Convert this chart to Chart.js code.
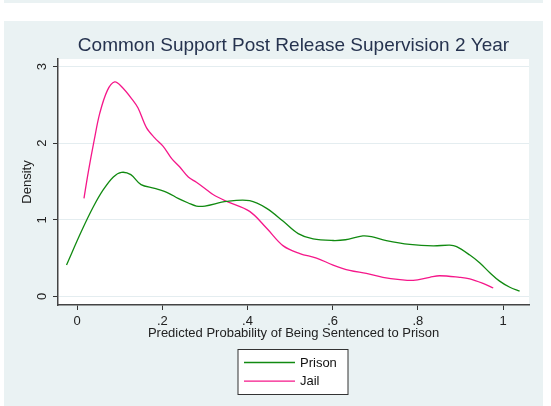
<!DOCTYPE html>
<html><head><meta charset="utf-8">
<script src="https://cdn.jsdelivr.net/npm/chart.js@4.4.1/dist/chart.umd.min.js"></script>
<style>html,body{margin:0;padding:0;background:#fff;}#wrap{width:551px;height:406px;}</style>
</head><body><div id="wrap"><canvas id="c" width="551" height="406"></canvas></div>
<script>
const prisonX = [-0.025,0.010,0.038,0.061,0.085,0.104,0.126,0.150,0.182,0.214,0.237,0.261,0.280,0.300,0.351,0.405,0.445,0.484,0.519,0.554,0.601,0.630,0.671,0.691,0.726,0.781,0.836,0.875,0.891,0.922,0.945,0.969,0.992,1.016,1.039];
const prisonY = [0.41,0.85,1.17,1.39,1.56,1.62,1.59,1.46,1.41,1.35,1.28,1.22,1.18,1.18,1.24,1.25,1.15,0.98,0.82,0.75,0.73,0.74,0.79,0.78,0.73,0.68,0.66,0.67,0.65,0.54,0.44,0.31,0.20,0.12,0.07];
const jailX = [0.016,0.026,0.040,0.053,0.071,0.088,0.104,0.131,0.143,0.163,0.182,0.202,0.222,0.241,0.261,0.280,0.300,0.319,0.351,0.405,0.445,0.484,0.523,0.562,0.601,0.640,0.679,0.718,0.758,0.789,0.828,0.851,0.898,0.922,0.953,0.977];
const jailY = [1.28,1.62,2.04,2.39,2.69,2.80,2.74,2.56,2.46,2.20,2.07,1.96,1.80,1.69,1.56,1.49,1.41,1.33,1.24,1.11,0.89,0.66,0.56,0.50,0.41,0.34,0.30,0.25,0.22,0.21,0.25,0.27,0.25,0.23,0.17,0.11];
const xTickValues = [0,0.2,0.4,0.6,0.8,1];
const xTickLabels = ['0','.2','.4','.6','.8','1'];
const yTickValues = [0,1,2,3];
const yTickLabels = ['0','1','2','3'];
const seriesNames = ['Prison','Jail'];
const titleText = 'Common Support Post Release Supervision 2 Year';
const xTitle = 'Predicted Probability of Being Sentenced to Prison';
const yTitle = 'Density';

const FONT = "'Liberation Sans', Arial, Helvetica, sans-serif";
const PANEL = '#eaf2f3';
const toPts = (xs, ys) => xs.map((x, i) => ({x: x, y: ys[i]}));

const bgPlugin = {
  id: 'bg',
  beforeDraw(chart) {
    const {ctx, chartArea: a} = chart;
    ctx.save();
    ctx.fillStyle = '#ffffff';
    ctx.fillRect(0, 0, chart.width, chart.height);
    ctx.fillStyle = PANEL;
    ctx.fillRect(4, 0, 539, 3);
    ctx.fillRect(4, 21, 539, chart.height - 21);
    ctx.fillStyle = '#ffffff';
    ctx.fillRect(a.left, a.top, a.right - a.left, a.bottom - a.top);
    ctx.restore();
  }
};

const legendBoxPlugin = {
  id: 'legendBox',
  afterDraw(chart) {
    const {ctx} = chart;
    const bx = 238, by = 349.5, bw = 110, bh = 45;
    ctx.save();
    ctx.fillStyle = '#ffffff';
    ctx.fillRect(bx, by, bw, bh);
    ctx.strokeStyle = '#333333';
    ctx.lineWidth = 1;
    ctx.strokeRect(bx, by, bw, bh);
    ctx.font = '13px ' + FONT;
    ctx.textBaseline = 'middle';
    ctx.textAlign = 'left';
    chart.data.datasets.forEach((ds, i) => {
      const y = by + 13 + i * 18.7;
      ctx.strokeStyle = ds.borderColor;
      ctx.lineWidth = 1.3;
      ctx.beginPath();
      ctx.moveTo(244, y);
      ctx.lineTo(295, y);
      ctx.stroke();
      ctx.fillStyle = '#111111';
      ctx.fillText(ds.label, 300, y + 0.5);
    });
    ctx.restore();
  }
};

new Chart(document.getElementById('c'), {
  type: 'line',
  data: {
    datasets: [
      {label: seriesNames[0], data: toPts(prisonX, prisonY), borderColor: '#118a11', borderWidth: 1.3, pointRadius: 0, tension: 0.35, fill: false},
      {label: seriesNames[1], data: toPts(jailX, jailY), borderColor: '#f5178a', borderWidth: 1.3, pointRadius: 0, tension: 0.35, fill: false}
    ]
  },
  options: {
    responsive: false,
    animation: false,
    devicePixelRatio: 1,
    layout: {padding: {left: 0, right: 22, top: 0, bottom: 0}},
    plugins: {
      legend: {display: false},
      tooltip: {enabled: false},
      title: {
        display: true, text: titleText, fullSize: false,
        color: '#26334f',
        font: {family: FONT, size: 19, weight: 'normal', lineHeight: 1.2},
        padding: {top: 34.3, bottom: 1.9}
      }
    },
    scales: {
      x: {
        type: 'linear', min: -0.045, max: 1.061,
        afterBuildTicks: s => { s.ticks = xTickValues.map(v => ({value: v})); },
        afterFit: s => { s.height = 101; },
        ticks: {
          callback: (v, i) => xTickLabels[i],
          color: '#222', padding: 3.2, maxRotation: 0, autoSkip: false,
          font: {family: FONT, size: 13, lineHeight: 1.2}
        },
        grid: {drawOnChartArea: false, tickLength: 5, tickColor: '#333', tickWidth: 1},
        border: {display: true, color: '#444', width: 1.5},
        title: {display: true, text: xTitle, color: '#222', font: {family: FONT, size: 13, lineHeight: 1.2}, padding: {top: 0, bottom: 64.4}}
      },
      y: {
        type: 'linear', min: -0.112, max: 3.1,
        afterBuildTicks: s => { s.ticks = yTickValues.map(v => ({value: v})); },
        afterFit: s => { s.width = 58; },
        ticks: {
          callback: (v, i) => yTickLabels[i],
          color: '#222', padding: 7.2, minRotation: 90, maxRotation: 90, crossAlign: 'center',
          font: {family: FONT, size: 13, lineHeight: 1.2}
        },
        grid: {color: '#e4edf0', lineWidth: 1, tickLength: 5, tickColor: '#333', tickWidth: 1},
        border: {display: true, color: '#444', width: 1.5},
        title: {display: true, text: yTitle, color: '#222', font: {family: FONT, size: 13, lineHeight: 1.2}, padding: {top: 19.5, bottom: 0}}
      }
    }
  },
  plugins: [bgPlugin, legendBoxPlugin]
});
</script>
</body></html>
